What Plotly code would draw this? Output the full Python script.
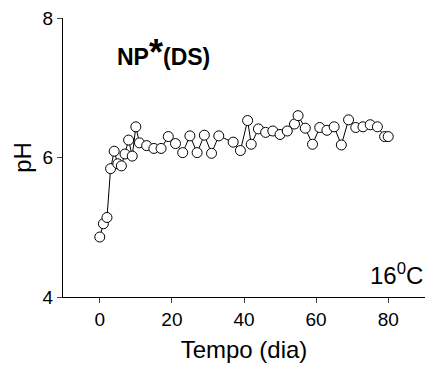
import plotly.graph_objects as go

days = [0, 1, 2, 3, 4, 5, 6, 7, 8, 9, 10, 11, 13, 15, 17, 19, 21, 23, 25, 27, 29, 31, 33,
        37, 39, 41, 42, 44, 46, 48, 50, 52, 54, 55, 57, 59, 61, 63, 65, 67, 69, 71, 73,
        75, 77, 79, 80]
ph = [4.86, 5.05, 5.14, 5.84, 6.09, 5.91, 5.88, 6.05, 6.25, 6.02, 6.44, 6.21, 6.17, 6.13,
      6.13, 6.30, 6.20, 6.07, 6.31, 6.07, 6.32, 6.06, 6.31, 6.22, 6.10, 6.53, 6.19, 6.41,
      6.36, 6.38, 6.33, 6.38, 6.48, 6.60, 6.42, 6.19, 6.43, 6.39, 6.44, 6.18, 6.54, 6.43,
      6.44, 6.47, 6.44, 6.30, 6.30]

x_ticks = [0, 20, 40, 60, 80]
y_ticks = [4, 6, 8]

FONT = "Liberation Sans, Arial, sans-serif"

fig = go.Figure()
fig.add_trace(go.Scatter(
    x=days, y=ph, mode="lines+markers",
    line=dict(color="black", width=1),
    marker=dict(symbol="circle", size=10, color="white", line=dict(color="black", width=1)),
    showlegend=False,
))

fig.update_layout(
    width=429, height=365,
    margin=dict(l=63, r=4, t=18, b=68),
    paper_bgcolor="white", plot_bgcolor="white",
    font=dict(family=FONT, color="black"),
    xaxis=dict(
        range=[-10.2, 90.2], tickvals=x_ticks, ticks="outside", ticklen=5, tickwidth=1,
        showline=True, linecolor="black", linewidth=1, showgrid=False, zeroline=False,
        tickfont=dict(size=19, family=FONT),
        title=dict(text="Tempo (dia)", font=dict(size=24, family=FONT), standoff=12),
    ),
    yaxis=dict(
        range=[4, 8], tickvals=y_ticks, ticks="outside", ticklen=5, tickwidth=1,
        showline=True, linecolor="black", linewidth=1, showgrid=False, zeroline=False,
        tickfont=dict(size=19, family=FONT),
        title=dict(text="pH", font=dict(size=24, family=FONT), standoff=4),
    ),
)

fig.add_annotation(
    xref="paper", yref="paper", x=0.145, y=0.875, xanchor="left", yanchor="middle",
    text="<b>NP<span style='font-size:36px'>*</span>(DS)</b>",
    showarrow=False, font=dict(size=23, family=FONT, color="black"),
)
fig.add_annotation(
    xref="paper", yref="paper", x=1.0, y=0.02, xanchor="right", yanchor="bottom",
    text="16<sup>0</sup>C",
    showarrow=False, font=dict(size=24, family=FONT, color="black"),
)

fig.write_html("out.html")
